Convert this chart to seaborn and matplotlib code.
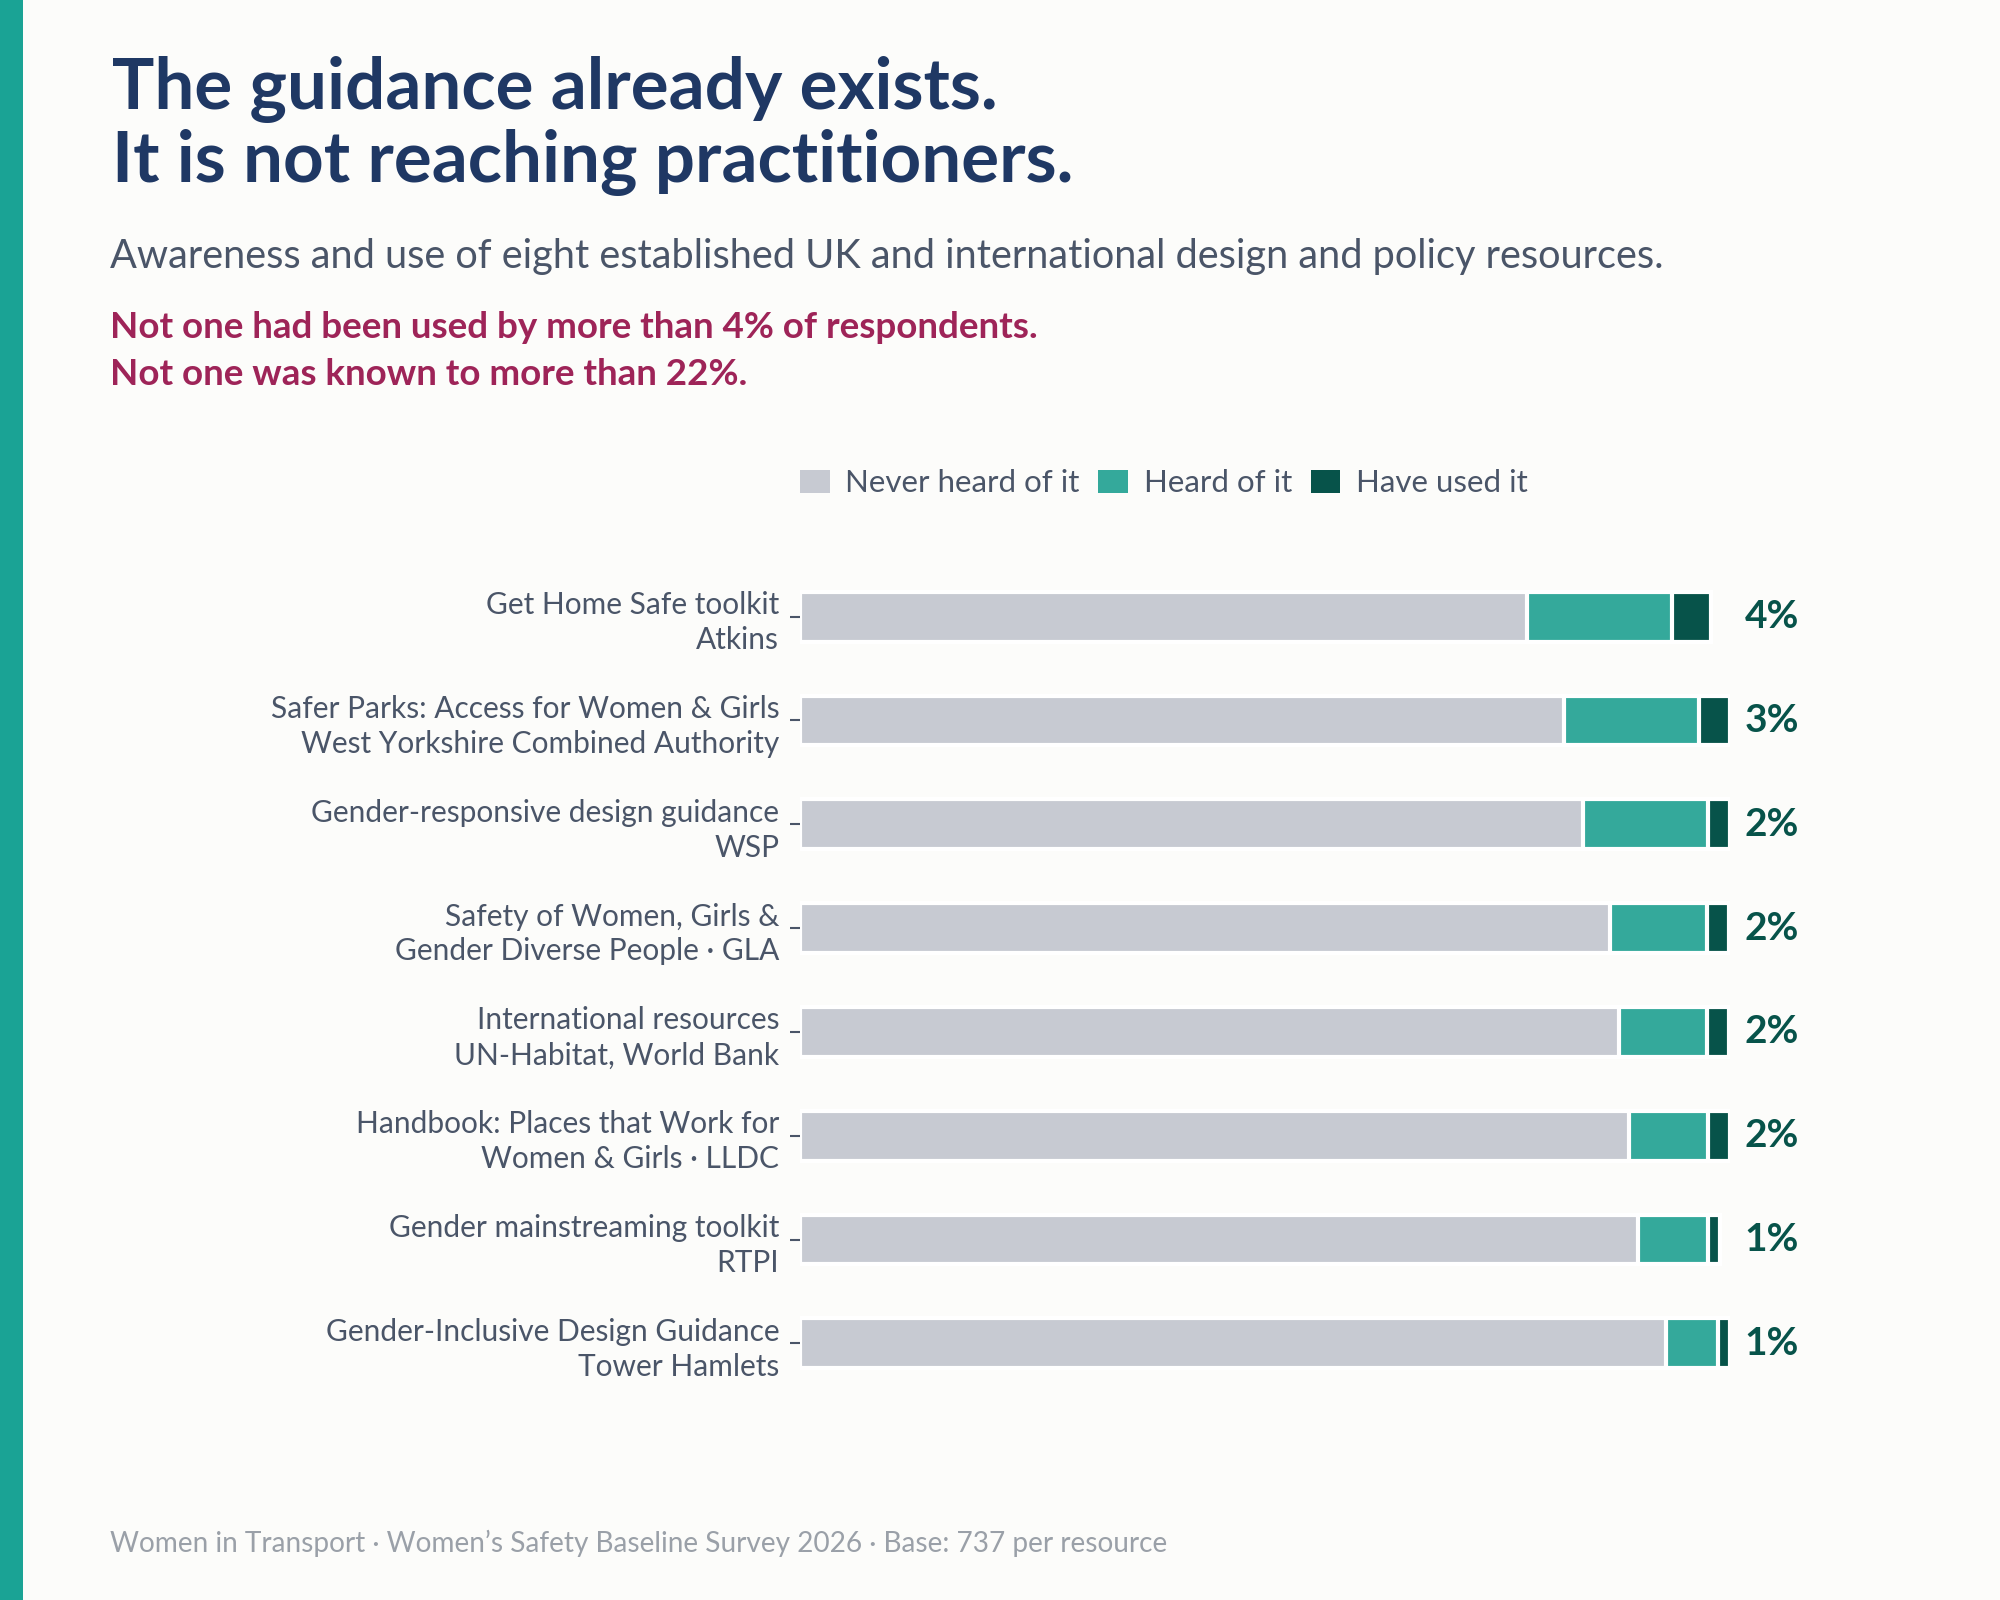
import matplotlib
matplotlib.use("Agg")
import matplotlib.pyplot as plt
from matplotlib.patches import Patch, Rectangle
import seaborn as sns
import pandas as pd

# 데이터
resources = [
    "Get Home Safe toolkit\nAtkins",
    "Safer Parks: Access for Women & Girls\nWest Yorkshire Combined Authority",
    "Gender-responsive design guidance\nWSP",
    "Safety of Women, Girls &\nGender Diverse People · GLA",
    "International resources\nUN-Habitat, World Bank",
    "Handbook: Places that Work for\nWomen & Girls · LLDC",
    "Gender mainstreaming toolkit\nRTPI",
    "Gender-Inclusive Design Guidance\nTower Hamlets",
]
never_heard = [78.2, 82.2, 84.2, 87.1, 88.1, 89.2, 90.2, 93.2]
heard_of = [15.6, 14.5, 13.5, 10.5, 9.5, 8.5, 7.5, 5.5]
have_used = [4.2, 3.3, 2.3, 2.3, 2.3, 2.3, 1.3, 1.3]
legend_labels = ["Never heard of it", "Heard of it", "Have used it"]

GRAY = "#c7cad2"
TEAL = "#34a99b"
DARK = "#07534a"
NAVY = "#1f3864"
SLATE = "#4a5568"
CRIMSON = "#9e2458"
BG = "#fcfcfa"

df = pd.DataFrame({"resource": resources, "never": never_heard,
                   "heard": heard_of, "used": have_used})
df["cum_heard"] = df["never"] + df["heard"]
df["cum_used"] = df["cum_heard"] + df["used"]

sns.set_theme(style="white")
plt.rcParams["font.family"] = ["Lato", "DejaVu Sans"]

fig = plt.figure(figsize=(20, 16), dpi=100, facecolor=BG)
ax = fig.add_axes([0.4, 0.128, 0.4648, 0.519])
ax.set_facecolor(BG)

# 누적 막대: 긴 것부터 겹쳐 그림
for col, color in [("cum_used", DARK), ("cum_heard", TEAL), ("never", GRAY)]:
    sns.barplot(data=df, x=col, y="resource", orient="y", color=color,
                width=0.48, edgecolor="white", linewidth=3, saturation=1,
                ax=ax)

ax.set_xlim(0, 100)
ax.set_xlabel("")
ax.set_ylabel("")
ax.set_xticks([])
sns.despine(ax=ax, left=True, bottom=True)
ax.tick_params(axis="y", length=7, width=1.5, color=SLATE, pad=8,
               labelsize=21.5, labelcolor=SLATE, left=True)
for lab in ax.get_yticklabels():
    lab.set_linespacing(1.3)

# 사용 비율 라벨
for i, v in enumerate(have_used):
    ax.text(101.6, i, f"{v:.0f}%", ha="left", va="center", fontsize=28,
            fontweight="bold", color=DARK, clip_on=False)

# 범례
handles = [Patch(facecolor=c, edgecolor="none") for c in (GRAY, TEAL, DARK)]
fig.legend(handles, legend_labels, loc="center left",
           bbox_to_anchor=(0.4, 1 - 483 / 1600), ncol=3, frameon=False,
           fontsize=22.5, labelcolor=SLATE, borderpad=0, borderaxespad=0,
           handlelength=0.95, handleheight=0.76, handletextpad=0.5,
           columnspacing=0.6)

# 제목 / 부제
fig.text(0.056, 1 - 109 / 1600, "The guidance already exists.",
         fontsize=51, fontweight="bold", color=NAVY, va="baseline")
fig.text(0.056, 1 - 182 / 1600, "It is not reaching practitioners.",
         fontsize=51, fontweight="bold", color=NAVY, va="baseline")
fig.text(0.055, 1 - 268 / 1600,
         "Awareness and use of eight established UK and international design and policy resources.",
         fontsize=28.6, color=SLATE, va="baseline")
fig.text(0.055, 1 - 338 / 1600,
         "Not one had been used by more than 4% of respondents.",
         fontsize=26.5, fontweight="bold", color=CRIMSON, va="baseline")
fig.text(0.055, 1 - 385 / 1600, "Not one was known to more than 22%.",
         fontsize=26.5, fontweight="bold", color=CRIMSON, va="baseline")
fig.text(0.055, 1 - 1552 / 1600,
         "Women in Transport · Women\u2019s Safety Baseline Survey 2026 · Base: 737 per resource",
         fontsize=20.2, color="#9aa0a8", va="baseline")

# 왼쪽 띠
fig.patches.append(Rectangle((0, 0), 23 / 2000, 1, transform=fig.transFigure,
                             facecolor="#1aa395", edgecolor="none"))

fig.savefig("out.png", dpi=100, facecolor=BG)
